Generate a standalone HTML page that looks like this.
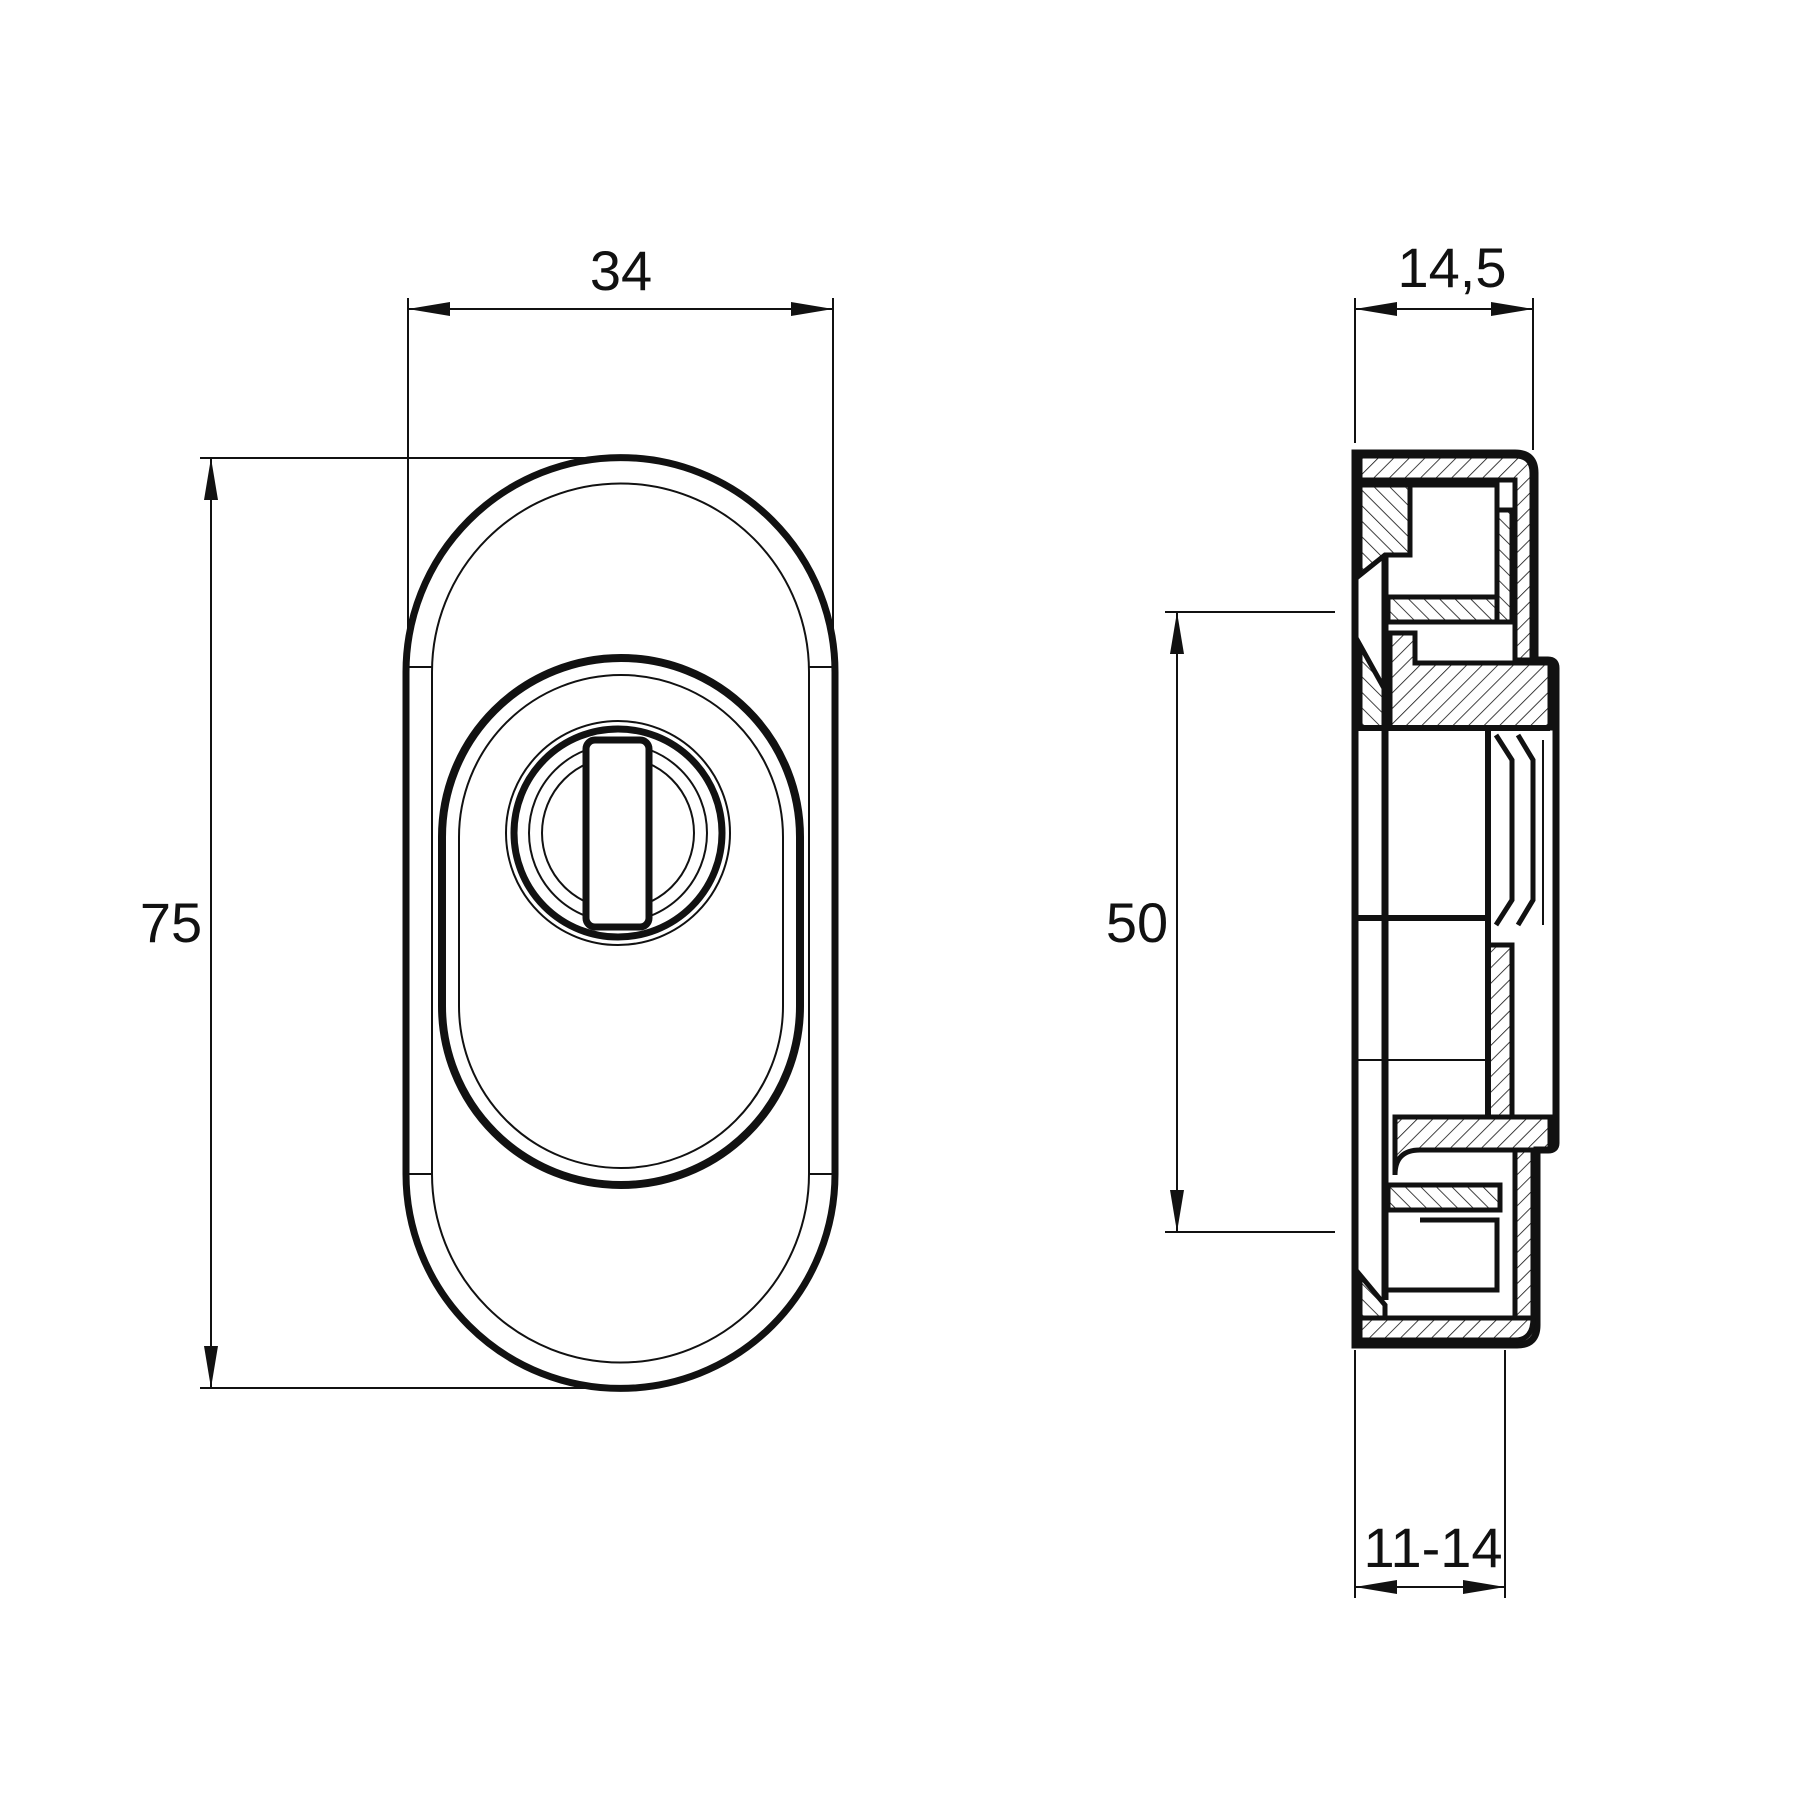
<!DOCTYPE html>
<html><head><meta charset="utf-8"><style>html,body{margin:0;padding:0;background:#fff}svg{display:block}</style></head><body>
<svg width="1800" height="1800" viewBox="0 0 1800 1800" xmlns="http://www.w3.org/2000/svg">
<defs>
<pattern id="h" patternUnits="userSpaceOnUse" width="11" height="11" patternTransform="rotate(45)"><line x1="0" y1="0" x2="0" y2="11" stroke="#111" stroke-width="1.6"/></pattern>
<pattern id="h2" patternUnits="userSpaceOnUse" width="11" height="11" patternTransform="rotate(-45)"><line x1="0" y1="0" x2="0" y2="11" stroke="#111" stroke-width="1.6"/></pattern>
</defs>
<g fill="none" stroke="#111">
<!-- front view -->
<path d="M406,672 A214.5,214.5 0 0 1 835,672 L835,1174 A214.5,214.5 0 0 1 406,1174 Z" stroke-width="7"/>
<path d="M432,672 A188.5,188.5 0 0 1 809,672 L809,1174 A188.5,188.5 0 0 1 432,1174 Z" stroke-width="2"/>
<path d="M406,667 H432 M809,667 H835 M406,1174 H432 M809,1174 H835" stroke-width="2"/>
<path d="M442,837 A179,179 0 0 1 800,837 L800,1006 A179,179 0 0 1 442,1006 Z" stroke-width="8"/>
<path d="M459,837 A162,162 0 0 1 783,837 L783,1006 A162,162 0 0 1 459,1006 Z" stroke-width="2"/>
<path d="M459,842 v164 M783,842 v164" stroke-width="2"/>
<circle cx="618" cy="833" r="112" stroke-width="2"/>
<circle cx="618" cy="833" r="104" stroke-width="7"/>
<circle cx="618" cy="833" r="89" stroke-width="2"/>
<circle cx="618" cy="833" r="76" stroke-width="2"/>
<rect x="586" y="740" width="63" height="187" rx="9" fill="#fff" stroke-width="7"/>
<!-- dims front -->
<path d="M408,298 V670 M833,298 V670 M408,309 H833" stroke-width="2"/>
<path d="M200,458 H625 M200,1388 H625 M211,458 V1388" stroke-width="2"/>
<!-- side view outline -->
<path d="M1355,1345 V453 H1515 Q1535,453 1535,473 V660 H1548 Q1556,660 1556,668 V1143 Q1556,1150 1548,1150 H1537 V1325 Q1537,1345 1517,1345 Z" stroke-width="7"/>
</g>
<!-- hatched regions side -->
<g stroke="#111" stroke-width="5">
<path d="M1360,456 H1515 Q1532,456 1532,473 V660 H1515 V480 H1360 Z" fill="url(#h)"/>
<path d="M1360,485 H1410 V555 H1385 L1360,575 Z" fill="url(#h2)"/>
<path d="M1403,485 H1497 V597 H1403" fill="none"/>
<path d="M1497,510 H1512 V622 H1497 Z" fill="url(#h2)"/>
<path d="M1388,597 H1497 V622 H1388 Z" fill="url(#h2)"/>
<path d="M1390,633 H1415 V663 H1550 V728 H1390 Z" fill="url(#h)"/>
<path d="M1360,645 L1385,690 V728 H1360 Z" fill="url(#h2)"/>
<path d="M1488,945 H1512 V1117 H1488 Z" fill="url(#h)"/>
<path d="M1395,1117 H1550 V1150 H1420 Q1395,1150 1395,1175 Z" fill="url(#h)"/>
<path d="M1515,1150 H1533 V1318 H1515 Z" fill="url(#h)"/>
<path d="M1388,1185 H1500 V1210 H1388 Z" fill="url(#h2)"/>
<path d="M1360,1275 L1385,1305 V1318 H1360 Z" fill="url(#h2)"/>
<path d="M1360,1318 H1533 Q1533,1340 1515,1340 H1360 Z" fill="url(#h)"/>
</g>
<g fill="none" stroke="#111">
<path d="M1385,555 V1300" stroke-width="7"/>
<path d="M1355,728 H1550 M1355,918 H1488 M1488,728 V1117" stroke-width="6"/>
<path d="M1355,1060 H1488" stroke-width="2"/>
<path d="M1496,735 L1512,760 V900 L1496,925 M1518,735 L1533,760 V900 L1518,925" stroke-width="5"/>
<path d="M1543,740 V925" stroke-width="2"/>
<path d="M1420,1220 H1497 V1290 H1385" stroke-width="5"/>
<!-- side dims -->
<path d="M1355,298 V443 M1533,298 V450 M1355,309 H1533" stroke-width="2"/>
<path d="M1165,612 H1335 M1165,1232 H1335 M1177,612 V1232" stroke-width="2"/>
<path d="M1355,1350 V1598 M1505,1350 V1598 M1355,1587 H1505" stroke-width="2"/>
</g>
<g fill="#111">
<polygon points="408,309 450,302 450,316"/><polygon points="833,309 791,302 791,316"/>
<polygon points="211,458 204,500 218,500"/><polygon points="211,1388 204,1346 218,1346"/>
<polygon points="1355,309 1397,302 1397,316"/><polygon points="1533,309 1491,302 1491,316"/>
<polygon points="1177,612 1170,654 1184,654"/><polygon points="1177,1232 1170,1190 1184,1190"/>
<polygon points="1355,1587 1397,1580 1397,1594"/><polygon points="1505,1587 1463,1580 1463,1594"/>
</g>
<g font-family="Liberation Sans, sans-serif" font-size="56" fill="#111" text-anchor="middle">
<text x="621" y="290">34</text>
<text x="171" y="942">75</text>
<text x="1452" y="287">14,5</text>
<text x="1137" y="942">50</text>
<text x="1433" y="1567">11-14</text>
</g>
</svg>
</body></html>
